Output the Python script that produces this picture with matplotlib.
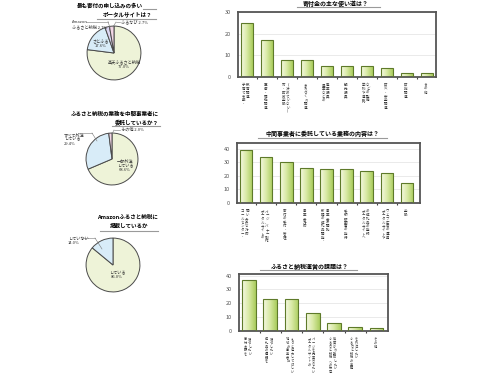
import matplotlib
matplotlib.use("Agg")
import matplotlib.pyplot as plt
import numpy as np
from matplotlib.colors import LinearSegmentedColormap

plt.rcParams['font.family'] = ['Noto Sans CJK JP', 'DejaVu Sans']

# ---------------- data ----------------
pie1_labels = ["楽天ふるさと納税", "さとふる", "Amazon\nふるさと納税", "ふるなび"]
pie1_values = [77.0, 17.6, 2.7, 2.7]

pie2_labels = ["一部外注\nしている", "すべて外注\nしている", "その他"]
pie2_values = [68.6, 29.4, 2.0]

pie3_labels = ["している", "していない"]
pie3_values = [86.0, 14.0]

bar1_cats = [["子育て支援・", "教育関連"], ["医療・福祉関連"], ["市・町政全般", "(決めていない)"],
             ["まちづくり関連"], ["農業などの", "産業振興"], ["観光振興"], ["学校や道路", "などの整備"],
             ["防災・安全関連"], ["防犯関連"], ["その他"]]
bar1_vals = [25, 17, 8, 8, 5, 5, 5, 4, 2, 2]
bar1_ticks = [0, 10, 20, 30]

bar2_cats = [["コールセンター・", "問い合わせ対応"], ["ポータルサイトの", "ページ、バナー制作"],
             ["寄付の受付・管理"], ["事業者対応"], ["新規の返礼品開発・", "事業者の開拓"],
             ["受領証明書の発行"], ["ポータルサイトへ", "の返礼品の登録"],
             ["ポータルサイトや", "ウェブ広告の運用"], ["全般"]]
bar2_vals = [39, 34, 30, 26, 25, 25, 24, 22, 15]
bar2_ticks = [0, 10, 20, 30, 40]

bar3_cats = [["寄付金額を", "増やしたい"], ["返礼品の種類を", "増やしたい"],
             ["地域の事業者に", "もっと協力してほしい"], ["ポータルサイトの", "ページを充実させたい"],
             ["ふるさと納税への依存", "体質から脱却したい"], ["ふるさと納税の業務", "を外注したい"],
             ["その他"]]
bar3_vals = [37, 23, 23, 13, 6, 3, 2]
bar3_ticks = [0, 10, 20, 30, 40]

# ---------------- helpers ----------------
W, H = 500, 375
fig = plt.figure(figsize=(W / 100, H / 100), dpi=100)
fig.patch.set_facecolor('white')


def fx(x):
    return x / W


def fy(y):
    return 1 - y / H


def add_ax(x0, y0, x1, y1):
    return fig.add_axes([fx(x0), fy(y1), (x1 - x0) / W, (y1 - y0) / H])


def ftext(x, y, s, **kw):
    fig.text(fx(x), fy(y), s, **kw)


def fline(x0, x1, y, color='#9a9a9a', lw=0.8):
    fig.add_artist(plt.Line2D([fx(x0), fx(x1)], [fy(y), fy(y)], color=color, lw=lw))


def fseg(x0, y0, x1, y1, color='#777777', lw=0.4):
    fig.add_artist(plt.Line2D([fx(x0), fx(x1)], [fy(y0), fy(y1)], color=color, lw=lw))


GREEN = '#eef3d8'
BLUE = '#d8ecf8'
PINK = '#f3d6e6'
LAV = '#dcd6f2'


def draw_pie(cx, cy, r, values, colors):
    ax = add_ax(cx - r - 1, cy - r - 1, cx + r + 1, cy + r + 1)
    ax.pie(values, colors=colors, startangle=90, counterclock=False, radius=1,
           wedgeprops=dict(edgecolor='#4a4a4a', linewidth=0.7))
    ax.set_xlim(-1.04, 1.04)
    ax.set_ylim(-1.04, 1.04)
    ax.set_aspect('equal')
    ax.axis('off')
    return ax


# ---------------- pies ----------------
tfs = 4.0
pfs = 3.0
pc = '#333333'
# pie 1
ftext(143, 5.5, "最も寄付の申し込みの多い", ha='right', va='center', fontsize=tfs, fontweight='bold')
ftext(152, 14, "ポータルサイトは？", ha='right', va='center', fontsize=tfs, fontweight='bold')
fline(143, 156, 9)
fline(97, 156, 18.5)
draw_pie(114, 53, 27, pie1_values, [GREEN, BLUE, LAV, PINK])
ftext(124, 64, f"{pie1_labels[0]}\n{pie1_values[0]:.1f}%", ha='center', va='center', fontsize=pfs,
      color=pc, linespacing=1.1)
ftext(101, 44, f"{pie1_labels[1]}\n{pie1_values[1]:.1f}%", ha='center', va='center', fontsize=pfs,
      color=pc, linespacing=1.1)
ftext(72, 24.5, f"Amazon\nふるさと納税 {pie1_values[2]:.1f}%", ha='left', va='center', fontsize=pfs,
      color=pc, linespacing=1.05)
fseg(86, 21.5, 108, 21.5)
fseg(108, 21.5, 110, 28)
ftext(121, 22, f"{pie1_labels[3]} {pie1_values[3]:.1f}%", ha='left', va='center', fontsize=pfs,
      color=pc)
fseg(113, 27, 116, 22)
fseg(116, 22, 120, 22)

# pie 2
ftext(159, 113.5, "ふるさと納税の業務を中間事業者に", ha='right', va='center', fontsize=tfs, fontweight='bold')
ftext(159, 122, "委託しているか？", ha='right', va='center', fontsize=tfs, fontweight='bold')
fline(112, 160, 126.5)
draw_pie(112, 159, 26, pie2_values, [GREEN, BLUE, PINK])
ftext(125, 166, f"{pie2_labels[0]}\n{pie2_values[0]:.1f}%", ha='center', va='center', fontsize=pfs,
      color=pc, linespacing=1.1)
ftext(64, 139, f"{pie2_labels[1]}\n{pie2_values[1]:.1f}%", ha='left', va='center', fontsize=pfs,
      color=pc, linespacing=1.1)
fseg(78, 133, 92, 133)
fseg(92, 133, 97, 141)
ftext(121, 130, f"{pie2_labels[2]} {pie2_values[2]:.1f}%", ha='left', va='center', fontsize=pfs,
      color=pc)
fseg(112, 134, 114, 130)
fseg(114, 130, 120, 130)

# pie 3
ftext(158, 217.5, "Amazonふるさと納税に", ha='right', va='center', fontsize=tfs, fontweight='bold')
ftext(148, 226, "掲載しているか", ha='right', va='center', fontsize=tfs, fontweight='bold')
fline(100, 158, 230.5)
draw_pie(113, 265, 27, pie3_values, [GREEN, BLUE])
ftext(117, 275, f"{pie3_labels[0]}\n{pie3_values[0]:.1f}%", ha='center', va='center', fontsize=pfs,
      color=pc, linespacing=1.1)
ftext(68, 241, f"{pie3_labels[1]}\n{pie3_values[1]:.1f}%", ha='left', va='center', fontsize=pfs,
      color=pc, linespacing=1.1)
fseg(82, 238, 95, 238)
fseg(95, 238, 102, 249)

# ---------------- bars ----------------
grad = np.linspace(0, 1, 64).reshape(1, -1)
gcmap = LinearSegmentedColormap.from_list('g', ['#f6f9e4', '#d8e9a4', '#a9cc5c'])


def draw_bars(box, cats, vals, ticks, ylim, xlim, width, title, tpos, uline, lfs=2.5, lsp=0.92):
    ax = add_ax(*box)
    x = np.arange(len(vals))
    bars = ax.bar(x, vals, width=width, color='none', edgecolor='#5e7a2a', linewidth=0.8, zorder=3)
    for b in bars:
        bx, by = b.get_x(), b.get_y()
        im = ax.imshow(grad, cmap=gcmap, aspect='auto', zorder=2,
                       extent=[bx, bx + b.get_width(), by, by + b.get_height()])
        im.set_clip_path(b)
    ax.set_xlim(*xlim)
    ax.set_ylim(*ylim)
    ax.set_yticks(ticks)
    ax.set_yticklabels([str(t) for t in ticks], fontsize=4, color='#555555')
    ax.tick_params(axis='y', length=0, pad=5)
    ax.set_xticks(x[:-1] + 0.5)
    ax.set_xticklabels([])
    ax.tick_params(axis='x', length=1.5, width=0.8, color='#444444', direction='out')
    for t in ticks:
        ax.axhline(t, color='#e6e6e6', lw=0.6, zorder=1)
    for s in ax.spines.values():
        s.set_color('#555555')
        s.set_linewidth(1.3)
    ax.set_facecolor('white')
    colw = 3.2
    for i, cols in enumerate(cats):
        n = len(cols)
        for j, col in enumerate(cols):
            dx = (j - (n - 1) / 2) * colw - 1
            ax.annotate("\n".join(col), xy=(i, 0), xycoords=('data', 'axes fraction'),
                        xytext=(dx, -4.5), textcoords='offset points', ha='center', va='top',
                        fontsize=lfs, linespacing=lsp, color='#333333', annotation_clip=False)
    ftext(tpos[0], tpos[1], title, ha='center', va='center', fontsize=4.3, fontweight='bold')
    fline(uline[0], uline[1], uline[2])
    return ax


draw_bars((238, 12, 436, 77), bar1_cats, bar1_vals, bar1_ticks, (0, 30), (-0.45, 9.45), 0.6,
          "寄付金の主な使い道は？", (336, 3.2), (297, 380, 7.3))
draw_bars((237, 143, 420, 203), bar2_cats, bar2_vals, bar2_ticks, (0, 44.4), (-0.45, 8.65), 0.62,
          "中間事業者に委託している業務の内容は？", (322, 133.2), (258, 387, 137.6))
draw_bars((239, 274, 388, 331), bar3_cats, bar3_vals, bar3_ticks, (0, 41.2), (-0.47, 6.54), 0.64,
          "ふるさと納税運営の課題は？", (310, 266.2), (260, 357, 270.2), lfs=2.3, lsp=0.88)

fig.savefig("out.png", dpi=100, facecolor='white')
